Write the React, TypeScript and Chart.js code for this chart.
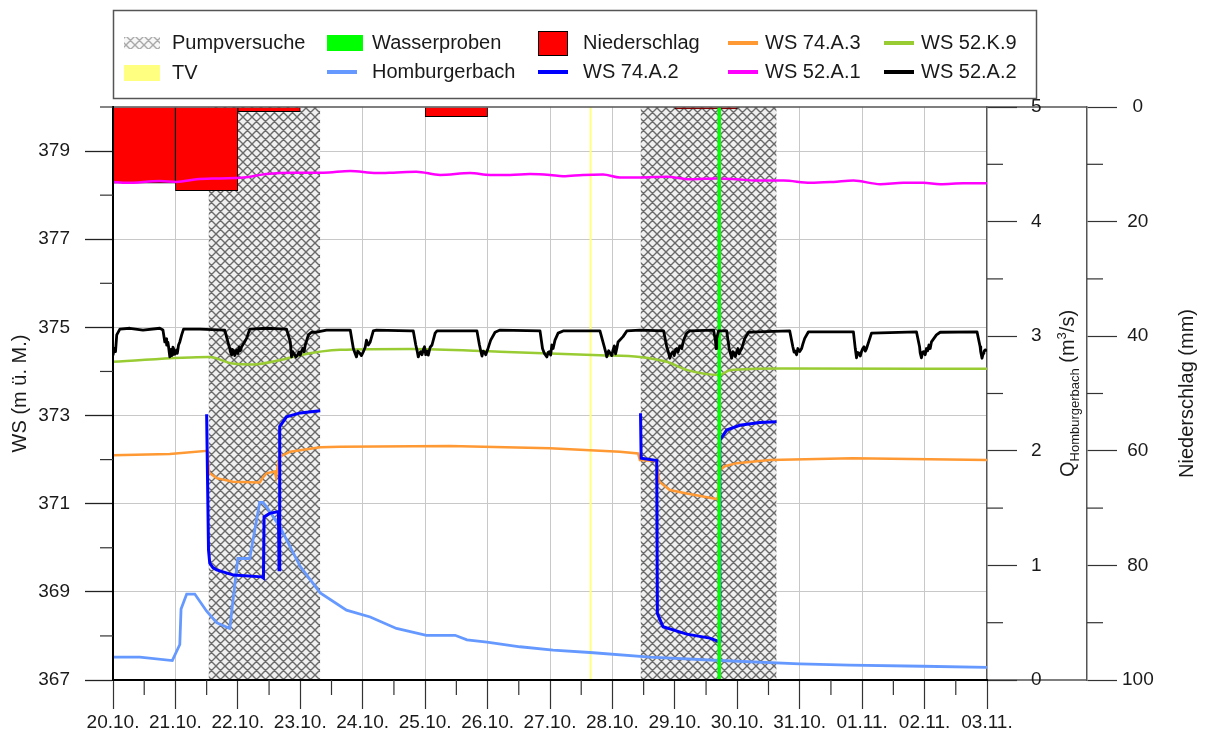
import { useEffect, useRef } from 'react';
import { Chart, registerables } from 'chart.js';

Chart.register(...registerables);

const FONT = '"Liberation Sans", Arial, Helvetica, sans-serif';
const TEXT = '#1a1a1a';

// x values are days since 20.10. 00:00
const DATE_LABELS = [
  '20.10.', '21.10.', '22.10.', '23.10.', '24.10.', '25.10.', '26.10.', '27.10.',
  '28.10.', '29.10.', '30.10.', '31.10.', '01.11.', '02.11.', '03.11.',
];
const WS_TICKS = [367, 369, 371, 373, 375, 377, 379];

// pumping test periods [start, end]
const PUMP_TESTS: [number, number][] = [
  [1.53, 3.32],
  [8.45, 10.63],
];
const SAMPLE_DAYS = [9.71];
const TV_DAYS = [7.65];

// daily precipitation (mm), bar centred on the day
const PRECIP_DAYS = [0.5, 1.5, 2.5, 5.5, 9.5];
const PRECIP_MM = [13.3, 14.6, 0.8, 1.7, 0.35];

// discharge Homburgerbach (m³/s)
const HOMBURGERBACH: [number, number][] = [
  [0, 0.2], [0.43, 0.2], [0.95, 0.17], [1.07, 0.31], [1.09, 0.62], [1.18, 0.75],
  [1.31, 0.75], [1.5, 0.6], [1.66, 0.5], [1.87, 0.45], [2.0, 1.06], [2.19, 1.06],
  [2.35, 1.55], [2.4, 1.55], [2.46, 1.51], [2.67, 1.34], [3.0, 0.99], [3.32, 0.76],
  [3.74, 0.61], [4.12, 0.55], [4.54, 0.45], [5.02, 0.39], [5.48, 0.39], [5.67, 0.35],
  [5.99, 0.33], [6.52, 0.29], [7.05, 0.26], [7.64, 0.24], [8.6, 0.2], [9.72, 0.17],
  [11.0, 0.14], [11.8, 0.13], [12.97, 0.12], [14.0, 0.11],
];

// water levels (m ü. M.)
const WS_74A2: [number, number | null][] = [
  [1.5, 373.03], [1.53, 369.95], [1.55, 369.65], [1.6, 369.55], [1.66, 369.5],
  [1.93, 369.38], [2.38, 369.34], [2.41, 369.31], [2.42, 370.7], [2.51, 370.78],
  [2.65, 370.82], [2.66, 369.5], [2.67, 372.75], [2.78, 372.97], [3.0, 373.06],
  [3.32, 373.11],
  [6.0, null],
  [8.45, 373.05], [8.46, 372.03], [8.71, 371.98], [8.72, 368.51], [8.81, 368.21],
  [9.19, 368.04], [9.56, 367.95], [9.71, 367.87], [9.72, 372.44], [9.83, 372.67],
  [10.04, 372.78], [10.36, 372.84], [10.63, 372.86],
];

const WS_74A3: [number, number][] = [
  [0, 372.1], [0.91, 372.13], [1.51, 372.2], [1.54, 371.7], [1.66, 371.58],
  [1.92, 371.5], [2.35, 371.48], [2.41, 371.61], [2.46, 371.69], [2.59, 371.73],
  [2.61, 371.61], [2.67, 372.07], [2.84, 372.18], [3.32, 372.28], [3.64, 372.29],
  [5.4, 372.31], [7.0, 372.26], [8.12, 372.18], [8.41, 372.14], [8.44, 371.99],
  [8.7, 371.97], [8.75, 371.5], [8.92, 371.31], [9.19, 371.23], [9.69, 371.1],
  [9.72, 371.76], [9.8, 371.85], [9.99, 371.92], [10.52, 371.99], [11.85, 372.03],
  [14.0, 371.99],
];

const WS_52A1: [number, number][] = [
  [0, 378.3], [0.22, 378.28], [0.75, 378.32], [1.02, 378.3], [1.34, 378.36],
  [1.71, 378.38], [2.09, 378.4], [2.46, 378.48], [2.89, 378.51], [3.37, 378.51],
  [3.8, 378.55], [4.22, 378.5], [4.49, 378.51], [4.86, 378.53], [5.24, 378.46],
  [5.72, 378.5], [6.04, 378.46], [6.36, 378.46], [6.68, 378.48], [7.0, 378.46],
  [7.21, 378.43], [7.53, 378.46], [7.85, 378.47], [8.12, 378.4], [8.44, 378.4],
  [8.87, 378.42], [9.24, 378.36], [9.67, 378.38], [9.99, 378.36], [10.31, 378.33],
  [10.74, 378.33], [11.17, 378.28], [11.54, 378.3], [11.86, 378.33], [12.29, 378.25],
  [12.66, 378.28], [12.98, 378.28], [13.25, 378.25], [13.62, 378.27], [14.0, 378.27],
];

const WS_52K9: [number, number][] = [
  [0, 374.22], [1.54, 374.33], [1.92, 374.18], [2.25, 374.16], [2.68, 374.26],
  [2.99, 374.37], [3.64, 374.49], [4.76, 374.51], [6.2, 374.45], [7.8, 374.37],
  [8.44, 374.33], [8.87, 374.22], [9.2, 374.03], [9.72, 373.92], [9.88, 374.03],
  [10.68, 374.07], [14.0, 374.06],
];

const WS_52A2: [number, number][] = [
  [0.0, 374.37], [0.02, 374.52], [0.04, 374.45], [0.06, 374.83], [0.11, 374.96],
  [0.27, 374.98], [0.48, 374.94], [0.75, 374.98], [0.8, 374.94], [0.83, 374.67],
  [0.85, 374.74], [0.86, 374.6], [0.88, 374.66], [0.89, 374.56], [0.91, 374.33],
  [0.92, 374.44], [0.93, 374.5], [0.94, 374.36], [0.95, 374.38], [0.96, 374.55],
  [0.97, 374.52], [0.99, 374.39], [1.0, 374.42], [1.02, 374.49], [1.03, 374.41],
  [1.05, 374.6], [1.07, 374.67], [1.1, 374.83], [1.13, 374.96], [1.39, 374.96],
  [1.79, 374.94], [1.85, 374.62], [1.87, 374.52], [1.88, 374.45], [1.9, 374.37],
  [1.91, 374.5], [1.93, 374.48], [1.95, 374.36], [1.96, 374.4], [1.98, 374.49],
  [2.0, 374.41], [2.02, 374.55], [2.04, 374.47], [2.06, 374.56], [2.1, 374.65],
  [2.14, 374.75], [2.19, 374.96], [2.46, 374.98], [2.78, 374.96], [2.84, 374.67],
  [2.86, 374.33], [2.88, 374.45], [2.9, 374.4], [2.93, 374.33], [2.95, 374.36],
  [2.98, 374.44], [3.0, 374.37], [3.02, 374.46], [3.04, 374.52], [3.06, 374.45],
  [3.08, 374.6], [3.13, 374.83], [3.18, 374.89], [3.26, 374.89], [3.42, 374.94],
  [3.8, 374.94], [3.85, 374.52], [3.88, 374.4], [3.9, 374.33], [3.92, 374.46],
  [3.95, 374.42], [3.98, 374.36], [4.01, 374.45], [4.04, 374.55], [4.06, 374.71],
  [4.09, 374.6], [4.12, 374.67], [4.17, 374.92], [4.22, 374.94], [4.76, 374.92],
  [4.81, 374.92], [4.85, 374.6], [4.87, 374.48], [4.89, 374.33], [4.91, 374.41],
  [4.93, 374.45], [4.95, 374.38], [4.97, 374.49], [4.99, 374.56], [5.01, 374.38],
  [5.03, 374.46], [5.05, 374.37], [5.08, 374.55], [5.11, 374.6], [5.16, 374.87],
  [5.19, 374.92], [5.83, 374.92], [5.87, 374.6], [5.89, 374.47], [5.91, 374.35],
  [5.93, 374.46], [5.95, 374.44], [5.97, 374.38], [6.0, 374.49], [6.02, 374.58],
  [6.05, 374.71], [6.12, 374.89], [6.2, 374.94], [6.84, 374.92], [6.88, 374.52],
  [6.91, 374.41], [6.95, 374.33], [6.97, 374.43], [6.99, 374.45], [7.01, 374.37],
  [7.03, 374.6], [7.05, 374.52], [7.08, 374.71], [7.13, 374.87], [7.21, 374.92],
  [7.8, 374.92], [7.87, 374.56], [7.89, 374.45], [7.91, 374.33], [7.94, 374.47],
  [7.96, 374.42], [7.99, 374.36], [8.01, 374.49], [8.03, 374.58], [8.05, 374.4],
  [8.07, 374.52], [8.09, 374.67], [8.17, 374.79], [8.23, 374.92], [8.44, 374.94],
  [8.82, 374.92], [8.87, 374.56], [8.9, 374.42], [8.92, 374.3], [8.94, 374.4],
  [8.97, 374.45], [8.99, 374.36], [9.01, 374.5], [9.03, 374.52], [9.05, 374.44],
  [9.08, 374.58], [9.11, 374.52], [9.14, 374.71], [9.19, 374.87], [9.24, 374.92],
  [9.62, 374.94], [9.65, 374.7], [9.66, 374.52], [9.67, 374.75], [9.7, 374.92],
  [9.83, 374.92], [9.87, 374.52], [9.89, 374.41], [9.91, 374.3], [9.93, 374.45],
  [9.95, 374.42], [9.97, 374.34], [9.99, 374.45], [10.01, 374.52], [10.03, 374.4],
  [10.05, 374.47], [10.07, 374.52], [10.12, 374.75], [10.18, 374.89], [10.31, 374.9],
  [10.84, 374.92], [10.89, 374.56], [10.91, 374.44], [10.92, 374.47], [10.95, 374.38],
  [10.97, 374.52], [11.0, 374.45], [11.03, 374.52], [11.05, 374.62], [11.08, 374.75],
  [11.14, 374.9], [11.86, 374.9], [11.89, 374.52], [11.91, 374.31], [11.93, 374.43],
  [11.95, 374.42], [11.97, 374.35], [11.99, 374.45], [12.01, 374.52], [12.03, 374.56],
  [12.05, 374.46], [12.07, 374.52], [12.15, 374.87], [12.87, 374.9], [12.92, 374.56],
  [12.93, 374.42], [12.95, 374.31], [12.97, 374.44], [12.99, 374.45], [13.01, 374.38],
  [13.03, 374.52], [13.05, 374.47], [13.07, 374.6], [13.09, 374.52], [13.11, 374.67],
  [13.19, 374.83], [13.25, 374.89], [13.84, 374.9], [13.89, 374.56], [13.9, 374.44],
  [13.92, 374.3], [13.94, 374.41], [13.95, 374.45], [13.97, 374.49], [14.0, 374.47],
];

const WS_MIN = 367;
const WS_MAX = 380;

const COLORS = {
  hatchBg: '#f0f0f0',
  hatchLine: '#6a6a6a',
  samples: '#00ff00',
  tv: '#ffff80',
  precip: '#ff0000',
  homburgerbach: '#6699ff',
  ws74a2: '#0000ff',
  ws74a3: '#ff9933',
  ws52a1: '#ff00ff',
  ws52k9: '#99cc33',
  ws52a2: '#000000',
};

const xy = (pts: [number, number | null][]) => pts.map(([x, y]) => ({ x, y }));

function makeHatch(ctx: CanvasRenderingContext2D, alpha = 1): CanvasPattern | string {
  const s = 9;
  const c = document.createElement('canvas');
  c.width = s;
  c.height = s;
  const g = c.getContext('2d');
  if (!g) return '#bbb';
  g.globalAlpha = alpha;
  g.fillStyle = COLORS.hatchBg;
  g.fillRect(0, 0, s, s);
  g.strokeStyle = COLORS.hatchLine;
  g.lineWidth = 1.4;
  g.beginPath();
  for (const o of [-s, 0, s]) {
    g.moveTo(o, 0);
    g.lineTo(o + s, s);
    g.moveTo(o + s, 0);
    g.lineTo(o, s);
  }
  g.stroke();
  return ctx.createPattern(c, 'repeat') ?? '#bbb';
}

function line(ctx: CanvasRenderingContext2D, x1: number, y1: number, x2: number, y2: number) {
  ctx.beginPath();
  ctx.moveTo(x1, y1);
  ctx.lineTo(x2, y2);
  ctx.stroke();
}

function verticalTitle(ctx: CanvasRenderingContext2D, text: string, x: number, y: number) {
  ctx.save();
  ctx.translate(x, y);
  ctx.rotate(-Math.PI / 2);
  ctx.font = `20px ${FONT}`;
  ctx.fillStyle = TEXT;
  ctx.textAlign = 'center';
  ctx.textBaseline = 'middle';
  ctx.fillText(text, 0, 0);
  ctx.restore();
}

function dischargeTitle(ctx: CanvasRenderingContext2D, x: number, y: number) {
  const big = `20px ${FONT}`;
  const small = `13px ${FONT}`;
  const parts = [
    { t: 'Q', f: big, dy: 0 },
    { t: 'Homburgerbach', f: small, dy: 5 },
    { t: ' (m', f: big, dy: 0 },
    { t: '3', f: small, dy: -8 },
    { t: '/s)', f: big, dy: 0 },
  ];
  ctx.save();
  ctx.translate(x, y);
  ctx.rotate(-Math.PI / 2);
  ctx.fillStyle = TEXT;
  ctx.textAlign = 'left';
  ctx.textBaseline = 'alphabetic';
  let total = 0;
  for (const p of parts) {
    ctx.font = p.f;
    total += ctx.measureText(p.t).width;
  }
  let cx = -total / 2;
  for (const p of parts) {
    ctx.font = p.f;
    ctx.fillText(p.t, cx, 7 + p.dy);
    cx += ctx.measureText(p.t).width;
  }
  ctx.restore();
}

type LegendItem = {
  label: string;
  kind: 'hatch' | 'box' | 'line';
  color: string;
  x: number;
  y: number;
};

const LEGEND: LegendItem[] = [
  { label: 'Pumpversuche', kind: 'hatch', color: COLORS.hatchLine, x: 124, y: 43 },
  { label: 'TV', kind: 'box', color: COLORS.tv, x: 124, y: 73 },
  { label: 'Wasserproben', kind: 'box', color: COLORS.samples, x: 327, y: 43 },
  { label: 'Homburgerbach', kind: 'line', color: COLORS.homburgerbach, x: 327, y: 72 },
  { label: 'Niederschlag', kind: 'box', color: COLORS.precip, x: 538, y: 43 },
  { label: 'WS 74.A.2', kind: 'line', color: COLORS.ws74a2, x: 538, y: 72 },
  { label: 'WS 74.A.3', kind: 'line', color: COLORS.ws74a3, x: 728, y: 43 },
  { label: 'WS 52.A.1', kind: 'line', color: COLORS.ws52a1, x: 728, y: 72 },
  { label: 'WS 52.K.9', kind: 'line', color: COLORS.ws52k9, x: 884, y: 43 },
  { label: 'WS 52.A.2', kind: 'line', color: COLORS.ws52a2, x: 884, y: 72 },
];

const frame = {
  id: 'frame',
  beforeDraw(chart: any) {
    const { ctx, chartArea: a, scales } = chart;
    const n = scales.yN;
    ctx.save();
    ctx.strokeStyle = '#555';
    ctx.lineWidth = 1.5;
    line(ctx, a.right, a.top, n.left, a.top);
    line(ctx, a.right, a.bottom, n.left, a.bottom);
    ctx.restore();
  },
  afterDatasetsDraw(chart: any) {
    const { ctx, chartArea: a } = chart;
    ctx.save();
    ctx.strokeStyle = '#555';
    ctx.lineWidth = 1.5;
    line(ctx, a.left, a.top, a.right, a.top);
    ctx.restore();
  },
  afterDraw(chart: any) {
    const { ctx, chartArea: a, scales } = chart;
    const { x, y, yQ, yN } = scales;
    ctx.save();

    // minor tick marks between the labelled ones
    ctx.strokeStyle = '#333';
    ctx.lineWidth = 1.2;
    const xt = x.ticks.map((t: any) => t.value);
    for (let i = 0; i < xt.length - 1; i++) {
      const px = x.getPixelForValue((xt[i] + xt[i + 1]) / 2);
      line(ctx, px, a.bottom, px, a.bottom + 15);
    }
    for (const v of WS_TICKS) {
      const py = y.getPixelForValue(v + 1);
      line(ctx, a.left - 13, py, a.left, py);
    }
    const qt = yQ.ticks.map((t: any) => t.value);
    for (let i = 0; i < qt.length - 1; i++) {
      const py = yQ.getPixelForValue((qt[i] + qt[i + 1]) / 2);
      line(ctx, yQ.left, py, yQ.left + 16, py);
    }
    const nt = yN.ticks.map((t: any) => t.value);
    for (let i = 0; i < nt.length - 1; i++) {
      const py = yN.getPixelForValue((nt[i] + nt[i + 1]) / 2);
      line(ctx, yN.left, py, yN.left + 16, py);
    }

    // axis titles
    const midY = (a.top + a.bottom) / 2;
    verticalTitle(ctx, 'WS (m ü. M.)', 20, midY);
    dischargeTitle(ctx, 1067, midY);
    verticalTitle(ctx, 'Niederschlag (mm)', 1187, midY);

    // legend
    ctx.strokeStyle = '#555';
    ctx.lineWidth = 1.5;
    ctx.strokeRect(113.5, 10.5, 923, 88);
    ctx.font = `20px ${FONT}`;
    ctx.fillStyle = TEXT;
    ctx.textBaseline = 'middle';
    ctx.textAlign = 'left';
    for (const it of LEGEND) {
      if (it.kind === 'line') {
        ctx.strokeStyle = it.color;
        ctx.lineWidth = 4;
        line(ctx, it.x, it.y, it.x + 30, it.y);
      } else if (it.kind === 'hatch') {
        ctx.fillStyle = makeHatch(ctx, 0.55);
        ctx.fillRect(it.x, it.y - 6, 36, 12);
      } else if (it.label === 'Niederschlag') {
        ctx.fillStyle = it.color;
        ctx.fillRect(it.x, it.y - 12, 30, 25);
        ctx.strokeStyle = '#000';
        ctx.lineWidth = 1;
        ctx.strokeRect(it.x + 0.5, it.y - 11.5, 29, 24);
      } else {
        ctx.fillStyle = it.color;
        ctx.fillRect(it.x, it.y - 8, 36, 16);
      }
      ctx.fillStyle = TEXT;
      const tx = it.x + (it.x < 300 ? 48 : it.x < 700 ? 45 : 37);
      ctx.fillText(it.label, tx, it.y);
    }
    ctx.restore();
  },
};

export default function App() {
  const ref = useRef<HTMLCanvasElement | null>(null);

  useEffect(() => {
    const canvas = ref.current;
    if (!canvas) return;
    const ctx = canvas.getContext('2d');
    if (!ctx) return;
    const hatch = makeHatch(ctx);

    const tickFont = { family: FONT, size: 19 };
    const hideEdges = (last: number) => (c: any) =>
      c.index === 0 || c.index === last ? 'rgba(0,0,0,0)' : '#c8c8c8';

    const lineDs = (data: any[], color: string, width: number, order: number, extra: any = {}) => ({
      type: 'line' as const,
      data,
      borderColor: color,
      borderWidth: width,
      pointRadius: 0,
      fill: false,
      tension: 0,
      order,
      yAxisID: 'y',
      ...extra,
    });

    const datasets: any[] = [
      lineDs(xy(WS_52A2), COLORS.ws52a2, 2.8, 0, { borderJoinStyle: 'round' }),
      ...SAMPLE_DAYS.map((d) =>
        lineDs([{ x: d, y: WS_MIN }, { x: d, y: WS_MAX }], COLORS.samples, 3.5, 1),
      ),
      lineDs(xy(WS_74A2), COLORS.ws74a2, 3, 2),
      lineDs(xy(WS_74A3), COLORS.ws74a3, 2.5, 3),
      lineDs(xy(WS_52K9), COLORS.ws52k9, 2.5, 4, { cubicInterpolationMode: 'monotone' }),
      lineDs(xy(WS_52A1), COLORS.ws52a1, 2.5, 5, { cubicInterpolationMode: 'monotone' }),
      lineDs(xy(HOMBURGERBACH), COLORS.homburgerbach, 2.8, 6, { yAxisID: 'yQ' }),
      ...TV_DAYS.map((d) =>
        lineDs([{ x: d, y: WS_MIN }, { x: d, y: WS_MAX }], COLORS.tv, 2, 7),
      ),
      {
        type: 'bar' as const,
        data: PRECIP_DAYS.map((d, i) => ({ x: d, y: PRECIP_MM[i] })),
        backgroundColor: COLORS.precip,
        borderColor: '#000',
        borderWidth: 1,
        barPercentage: 1,
        categoryPercentage: 1,
        yAxisID: 'yN',
        order: 8,
      },
      ...PUMP_TESTS.map(([s, e]) =>
        lineDs([{ x: s, y: WS_MAX }, { x: e, y: WS_MAX }], 'rgba(0,0,0,0)', 0, 9, {
          fill: 'start',
          backgroundColor: hatch,
        }),
      ),
    ];

    const chart = new Chart(canvas, {
      type: 'line',
      data: { datasets },
      options: {
        responsive: false,
        animation: false,
        devicePixelRatio: 1,
        layout: { padding: { top: 107, left: 0, right: 0, bottom: 0 } },
        plugins: { legend: { display: false }, tooltip: { enabled: false } },
        scales: {
          x: {
            type: 'linear',
            position: 'bottom',
            min: 0,
            max: DATE_LABELS.length - 1,
            offset: false,
            afterFit: (s: any) => {
              s.height = 64;
            },
            ticks: {
              stepSize: 1,
              autoSkip: false,
              maxRotation: 0,
              padding: 2,
              color: TEXT,
              font: tickFont,
              callback: (v: any) => DATE_LABELS[Number(v)] ?? '',
            },
            grid: {
              offset: false,
              color: hideEdges(DATE_LABELS.length - 1),
              lineWidth: 1,
              tickColor: '#333',
              tickLength: 29,
              tickWidth: 1.2,
            },
            border: { color: '#000', width: 2, z: 1 },
          },
          y: {
            type: 'linear',
            position: 'left',
            min: WS_MIN,
            max: WS_MAX,
            afterBuildTicks: (s: any) => {
              s.ticks = WS_TICKS.map((value) => ({ value }));
            },
            afterFit: (s: any) => {
              s.width = 113;
            },
            ticks: { padding: 15, color: TEXT, font: tickFont },
            grid: {
              color: hideEdges(-1),
              lineWidth: 1,
              tickColor: '#222',
              tickLength: 28,
              tickWidth: 1.3,
            },
            border: { color: '#000', width: 2, z: 1 },
          },
          yQ: {
            type: 'linear',
            position: 'right',
            min: 0,
            max: 5,
            afterFit: (s: any) => {
              s.width = 100;
            },
            ticks: { stepSize: 1, padding: 14, color: TEXT, font: tickFont },
            grid: {
              drawOnChartArea: false,
              tickColor: '#333',
              tickLength: 30,
              tickWidth: 1.2,
            },
            border: { color: '#555', width: 1.5 },
          },
          yN: {
            type: 'linear',
            position: 'right',
            min: 0,
            max: 100,
            reverse: true,
            afterFit: (s: any) => {
              s.width = 122;
            },
            ticks: { stepSize: 20, padding: 5, crossAlign: 'center', color: TEXT, font: tickFont },
            grid: {
              drawOnChartArea: false,
              tickColor: '#333',
              tickLength: 30,
              tickWidth: 1.2,
            },
            border: { color: '#555', width: 1.5 },
          },
        },
      },
      plugins: [frame],
    } as any);

    return () => chart.destroy();
  }, []);

  return (
    <div
      style={{
        position: 'fixed',
        left: 0,
        top: 0,
        width: 1209,
        height: 744,
        background: '#fff',
      }}
    >
      <canvas ref={ref} width={1209} height={744} />
    </div>
  );
}
